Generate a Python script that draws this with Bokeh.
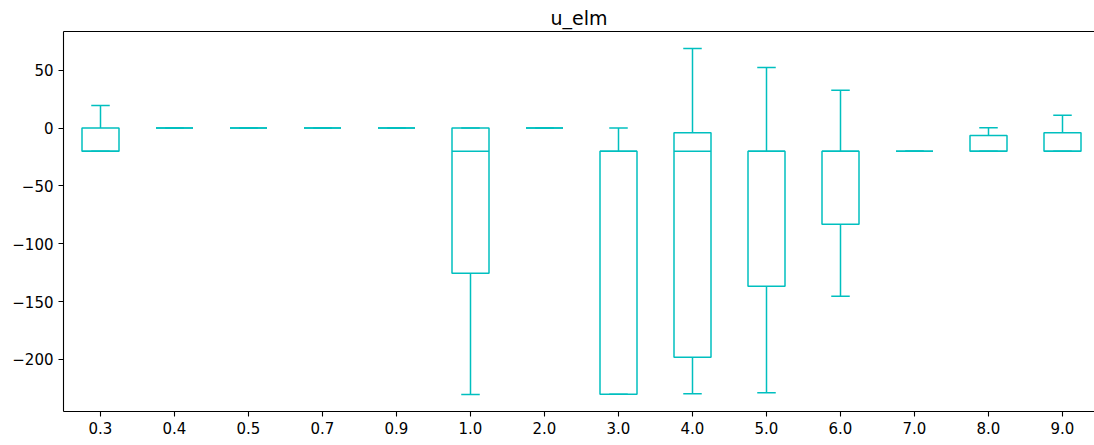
from bokeh.plotting import figure
from bokeh.models import FixedTicker, Range1d, ColumnDataSource, LinearAxis
from bokeh.embed import file_html
from bokeh.resources import INLINE

categories = ["0.3", "0.4", "0.5", "0.7", "0.9", "1.0", "2.0", "3.0", "4.0", "5.0", "6.0", "7.0", "8.0", "9.0"]
q1 =      [-20, 0, 0, 0, 0, -125.4, 0, -230.0, -198.0, -136.7, -83.1, -20, -20, -20]
median =  [-20, 0, 0, 0, 0, -20, 0, -20, -20, -20, -20, -20, -20, -20]
q3 =      [0, 0, 0, 0, 0, 0, 0, -20, -4.0, -20, -20, -20, -6.3, -4.0]
whislo =  [-20, 0, 0, 0, 0, -230.2, 0, -230.0, -229.6, -228.8, -145.3, -20, -20, -20]
whishi =  [19.6, 0, 0, 0, 0, 0, 0, 0, 68.8, 52.4, 32.8, -20, 0.3, 11.0]
y_ticks = [-200, -150, -100, -50, 0, 50]

COLOR = "#00BFBF"
FONT = "DejaVu Sans"
BOX_W = 0.5
CAP_W = 0.25

pos = list(range(1, len(categories) + 1))
src = ColumnDataSource(dict(
    x=pos,
    left=[p - BOX_W / 2 for p in pos], right=[p + BOX_W / 2 for p in pos],
    cl=[p - CAP_W / 2 for p in pos], cr=[p + CAP_W / 2 for p in pos],
    q1=q1, med=median, q3=q3, lo=whislo, hi=whishi,
))

p = figure(width=1094, height=445, output_backend="svg", toolbar_location=None,
           x_range=Range1d(0.5, 0.5 + 1031 / 74.0), y_range=Range1d(-245.0, 83.5),
           min_border_left=63, min_border_right=0, min_border_top=31, min_border_bottom=34,
           title="u_elm")

xax = p.below[0]
yax = p.left[0]

# whiskers
p.segment(x0="x", y0="q3", x1="x", y1="hi", source=src, line_color=COLOR, line_width=1.5)
p.segment(x0="x", y0="q1", x1="x", y1="lo", source=src, line_color=COLOR, line_width=1.5)
# caps
p.segment(x0="cl", y0="hi", x1="cr", y1="hi", source=src, line_color=COLOR, line_width=1.5)
p.segment(x0="cl", y0="lo", x1="cr", y1="lo", source=src, line_color=COLOR, line_width=1.5)
# boxes
p.quad(left="left", right="right", bottom="q1", top="q3", source=src,
       fill_color=None, line_color=COLOR, line_width=1.5)
# medians
p.segment(x0="left", y0="med", x1="right", y1="med", source=src, line_color=COLOR, line_width=1.5)

p.title.align = "center"
p.title.text_font = FONT
p.title.text_font_size = "19px"
p.title.text_font_style = "normal"
p.title.text_color = "black"
p.title.standoff = 5

p.xgrid.visible = False
p.ygrid.visible = False
p.outline_line_color = None

# top spine
top = LinearAxis(ticker=FixedTicker(ticks=[]), major_label_text_font_size="0px",
                 major_tick_out=0, major_tick_in=0, minor_tick_out=0, minor_tick_in=0,
                 axis_line_width=1.1, axis_line_color="black", major_label_standoff=0)
p.add_layout(top, "above")

xax.ticker = FixedTicker(ticks=pos)
xax.major_label_overrides = {i: c for i, c in zip(pos, categories)}
yax.ticker = FixedTicker(ticks=y_ticks)
yax.major_label_overrides = {t: (str(t).replace("-", "\u2212")) for t in y_ticks}

for ax in (xax, yax):
    ax.major_label_text_font = FONT
    ax.major_label_text_font_size = "15px"
    ax.major_label_text_color = "black"
    ax.major_tick_out = 5
    ax.major_tick_in = 0
    ax.minor_tick_out = 0
    ax.minor_tick_in = 0
    ax.major_tick_line_width = 1.1
    ax.axis_line_width = 1.1
    ax.major_label_standoff = 5
yax.major_label_orientation = "horizontal"

open("out.html", "w").write(file_html(p, INLINE))
